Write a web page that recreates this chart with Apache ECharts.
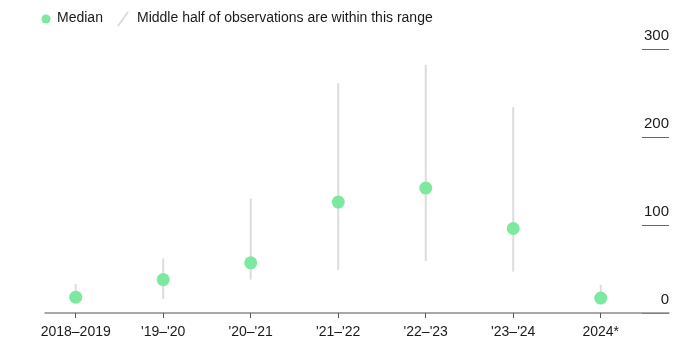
<!DOCTYPE html>
<html>
<head>
<meta charset="utf-8">
<script src="https://cdn.jsdelivr.net/npm/echarts@6/dist/echarts.min.js"></script>
<style>
html,body{margin:0;padding:0;background:#fff;}
#chart{width:700px;height:363px;}
</style>
</head>
<body>
<div id="chart"></div>
<script>
const categories = ['2018–2019', "'19–'20", "'20–'21", "'21–'22", "'22–'23", "'23–'24", '2024*'];
const median = [18, 38, 57, 126, 142, 96, 17];
const rangeLow = [13, 16, 38, 49, 59, 47, 14];
const rangeHigh = [33, 62, 130, 261, 282, 234, 32];
const yTicks = [0, 100, 200, 300];

const FONT = '"Liberation Sans", Arial, sans-serif';
const TEXT = '#1a1a1a';
const GREEN = '#7de8a0';
const RANGE = '#dcdcdc';

const chart = echarts.init(document.getElementById('chart'), null, {renderer: 'canvas'});
const idx = categories.map((c, i) => i);

chart.setOption({
  animation: false,
  textStyle: {fontFamily: FONT},
  grid: [
    {left: 45, right: 31, top: 49, bottom: 50},
    {left: 642, right: 31, top: 49, bottom: 50}
  ],
  graphic: [
    {type: 'circle', shape: {cx: 46, cy: 19, r: 4.5}, style: {fill: GREEN}},
    {type: 'text', left: 57, top: 11, style: {text: 'Median', font: '14px ' + FONT, fill: TEXT}},
    {type: 'line', shape: {x1: 118, y1: 26, x2: 128, y2: 12}, style: {stroke: RANGE, lineWidth: 2}},
    {type: 'text', left: 137, top: 11, style: {text: 'Middle half of observations are within this range', font: '14px ' + FONT, fill: TEXT}}
  ],
  xAxis: [
    {
      type: 'value', gridIndex: 0, min: -0.351, max: 6.78,
      splitLine: {show: false},
      axisLine: {show: true, lineStyle: {color: '#8c8c8c', width: 1.5}},
      axisTick: {show: true, customValues: idx, length: 5, lineStyle: {color: '#555', width: 1}},
      axisLabel: {customValues: idx, formatter: v => categories[Math.round(v)], color: TEXT, fontSize: 14, margin: 12, fontFamily: FONT}
    },
    {type: 'value', gridIndex: 1, show: false, min: 0, max: 1}
  ],
  yAxis: [
    {type: 'value', gridIndex: 0, min: 0, max: 300, show: false},
    {
      type: 'value', gridIndex: 1, min: 0, max: 300, interval: 100, position: 'right',
      axisLine: {show: false}, axisTick: {show: false},
      splitLine: {show: true, lineStyle: {color: '#666', width: 1}},
      axisLabel: {
        inside: true, margin: 0, color: TEXT, fontSize: 15, fontFamily: FONT,
        verticalAlign: 'bottom', padding: [0, 0, 6, 0],
        customValues: yTicks
      }
    }
  ],
  series: [
    {
      type: 'custom', xAxisIndex: 0, yAxisIndex: 0,
      data: idx.map(i => [i, rangeLow[i], rangeHigh[i]]),
      encode: {x: 0, y: [1, 2]},
      renderItem: function (params, api) {
        const p1 = api.coord([api.value(0), api.value(1)]);
        const p2 = api.coord([api.value(0), api.value(2)]);
        return {type: 'line', shape: {x1: p1[0], y1: p1[1], x2: p2[0], y2: p2[1]}, style: {stroke: RANGE, lineWidth: 2}};
      },
      z: 2
    },
    {
      type: 'scatter', xAxisIndex: 0, yAxisIndex: 0,
      data: idx.map(i => [i, median[i]]),
      symbol: 'circle', symbolSize: 13,
      itemStyle: {color: GREEN, opacity: 1},
      z: 3
    }
  ]
});
</script>
</body>
</html>
